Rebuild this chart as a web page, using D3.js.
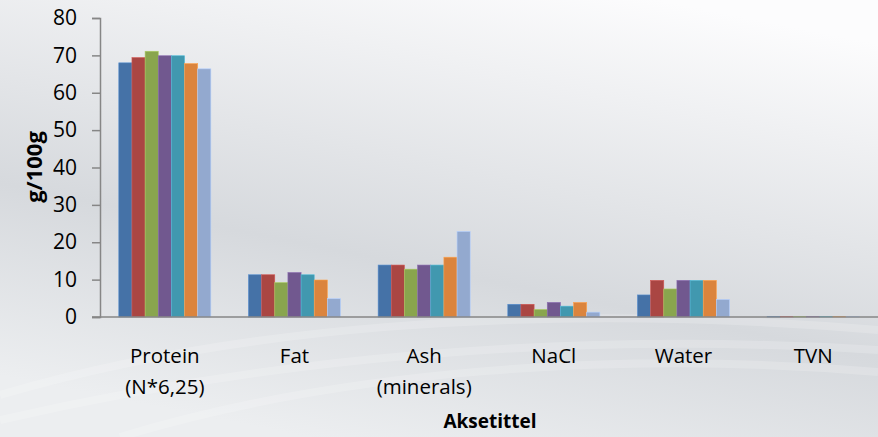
<!DOCTYPE html>
<html>
<head>
<meta charset="utf-8">
<script src="https://cdn.jsdelivr.net/npm/d3@7"></script>
<style>
  body { margin: 0; }
  svg { display: block; font-family: "Open Sans", sans-serif; }
</style>
</head>
<body>
<div class="chart-area"></div>
<script>
// categories and series
const categories = [["Protein", "(N*6,25)"], ["Fat"], ["Ash", "(minerals)"], ["NaCl"], ["Water"], ["TVN"]];
const series1 = [68, 11.3, 13.9, 3.4, 5.9, 0.15];
const series2 = [69.4, 11.3, 13.9, 3.4, 9.8, 0.15];
const series3 = [71.1, 9.2, 12.8, 2.0, 7.5, 0.15];
const series4 = [69.9, 11.9, 13.9, 3.9, 9.8, 0.15];
const series5 = [69.9, 11.3, 13.9, 2.9, 9.8, 0.15];
const series6 = [67.8, 9.9, 16.0, 3.9, 9.8, 0.15];
const series7 = [66.4, 4.9, 22.9, 1.3, 4.7, 0.15];
const yTicks = [0, 10, 20, 30, 40, 50, 60, 70, 80];

const allSeries = [series1, series2, series3, series4, series5, series6, series7];
const colors = ["#4572A7", "#AA4643", "#89A54E", "#71588F", "#4198AF", "#DB843D", "#93A9CF"];

let width = 878, height = 437;
let margin = {left: 100, right: 0, top: 18, bottom: 120};

const svg = d3.select(".chart-area").append("svg")
  .attr("width", width)
  .attr("height", height);

// background gradient like the office chart style
const defs = svg.append("defs");
const grad = defs.append("linearGradient")
  .attr("id", "bg")
  .attr("x1", "0.75").attr("y1", "0")
  .attr("x2", "0.35").attr("y2", "1");
grad.append("stop").attr("offset", "0").attr("stop-color", "#fcfcfd");
grad.append("stop").attr("offset", "0.62").attr("stop-color", "#d6d9dd");
grad.append("stop").attr("offset", "1").attr("stop-color", "#eceef0");

svg.append("rect")
  .attr("width", width).attr("height", height)
  .attr("fill", "url(#bg)");

// faint swooshes near the bottom
const swoosh = [
  "M0,395 C220,330 520,300 878,330",
  "M0,420 C260,360 560,330 878,350",
  "M120,437 C340,370 620,350 878,372"
];
svg.append("g").selectAll("path")
  .data(swoosh)
  .join("path")
  .attr("d", d => d)
  .attr("fill", "none")
  .attr("stroke", "#ffffff")
  .attr("stroke-opacity", 0.18)
  .attr("stroke-width", 8);

const x = d3.scaleBand()
  .domain(d3.range(categories.length))
  .range([margin.left, width - margin.right])
  .paddingInner(0.29)
  .paddingOuter(0.145);

const xs = d3.scaleBand()
  .domain(d3.range(allSeries.length))
  .range([0, x.bandwidth()]);

const y = d3.scaleLinear()
  .domain([0, 80])
  .range([height - margin.bottom, margin.top]);

// bars
const groups = svg.append("g")
  .selectAll("g")
  .data(categories.map((c, i) => i))
  .join("g")
  .attr("transform", i => `translate(${x(i)},0)`);

groups.selectAll("rect")
  .data(i => allSeries.map((s, j) => ({j: j, v: s[i]})))
  .join("rect")
  .attr("x", d => xs(d.j))
  .attr("width", xs.bandwidth())
  .attr("y", d => y(d.v))
  .attr("height", d => y(0) - y(d.v))
  .attr("fill", d => colors[d.j])
  .attr("stroke", d => d3.color(colors[d.j]).brighter(0.6))
  .attr("stroke-width", 0.6);

// y axis
const yAxis = svg.append("g")
  .attr("transform", `translate(${margin.left},0)`)
  .call(d3.axisLeft(y).tickValues(yTicks).tickSize(8).tickPadding(15));
yAxis.select(".domain").attr("stroke", "#868686").attr("stroke-width", 1.5);
yAxis.selectAll(".tick line").attr("stroke", "#868686").attr("stroke-width", 1.5);
yAxis.selectAll(".tick text")
  .attr("fill", "#000")
  .attr("font-size", 21)
  .attr("font-family", "Open Sans, sans-serif");

// x axis line
svg.append("line")
  .attr("x1", margin.left - 8).attr("x2", width)
  .attr("y1", y(0)).attr("y2", y(0))
  .attr("stroke", "#868686").attr("stroke-width", 1.5);

// category labels
const labels = svg.append("g")
  .selectAll("text")
  .data(categories)
  .join("text")
  .attr("x", (d, i) => x(i) + x.bandwidth() / 2)
  .attr("y", 363)
  .attr("text-anchor", "middle")
  .attr("font-size", 20.5)
  .attr("fill", "#000");
labels.selectAll("tspan")
  .data(d => d)
  .join("tspan")
  .attr("x", function() { return d3.select(this.parentNode).attr("x"); })
  .attr("dy", (d, k) => k === 0 ? 0 : 31)
  .text(d => d);

// axis titles
svg.append("text")
  .attr("transform", "translate(42,167) rotate(-90)")
  .attr("text-anchor", "middle")
  .attr("font-size", 22)
  .attr("font-weight", "bold")
  .text("g/100g");

svg.append("text")
  .attr("x", 490)
  .attr("y", 428)
  .attr("text-anchor", "middle")
  .attr("font-size", 19)
  .attr("font-weight", "bold")
  .text("Aksetittel");
</script>
</body>
</html>
